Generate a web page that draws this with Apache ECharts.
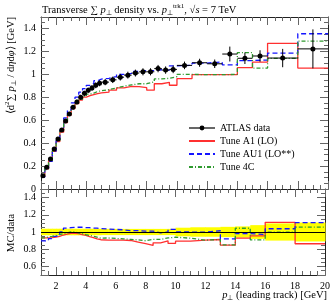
<!DOCTYPE html>
<html><head><meta charset="utf-8">
<script src="https://cdn.jsdelivr.net/npm/echarts@6/dist/echarts.min.js"></script>
<style>html,body{margin:0;padding:0;background:#fff}#c{width:333px;height:302px}</style>
</head><body><div id="c"></div>
<script>
// bin edges (leading track pT, GeV)
const binEdges = [1,1.25,1.5,1.75,2,2.25,2.5,2.75,3,3.25,3.5,3.75,4,4.25,4.5,4.75,5,5.5,6,6.5,7,7.5,8,8.5,9,9.5,10,11,12,13,14,15,16,18,20];
// ATLAS data
const dataVals = [0.116,0.189,0.262,0.349,0.436,0.514,0.593,0.654,0.712,0.759,0.800,0.834,0.861,0.881,0.904,0.922,
  0.932,0.952,0.975,0.993,1.011,1.022,1.022,1.050,1.037,1.043,
  1.078,1.101,1.092,1.177,1.140,1.160,1.142,1.222];
const dataErr = [0.008,0.010,0.012,0.014,0.015,0.016,0.017,0.018,0.019,0.020,0.021,0.022,0.023,0.024,0.025,0.026,
  0.027,0.028,0.029,0.030,0.030,0.031,0.031,0.032,0.032,0.033,
  0.033,0.035,0.037,0.065,0.050,0.050,0.080,0.170];
const bandRel = [0.038,0.038,0.038,0.038,0.038,0.038,0.038,0.038,0.038,0.038,0.038,0.038,0.038,0.038,0.038,0.038,
  0.036,0.036,0.036,0.036,0.036,0.036,0.036,0.036,0.036,0.036,
  0.050,0.055,0.055,0.060,0.065,0.080,0.100,0.110];
// MC tunes
const tuneA1 = [0.108,0.176,0.245,0.328,0.414,0.496,0.578,0.644,0.701,0.744,0.776,0.801,0.814,0.824,0.832,0.839,
  0.844,0.862,0.882,0.895,0.893,0.884,0.862,0.918,0.930,0.905,
  0.963,0.997,0.997,0.997,1.058,1.107,1.270,1.055];
const tuneAU1 = [0.104,0.170,0.242,0.331,0.421,0.514,0.620,0.687,0.751,0.801,0.844,0.876,0.904,0.921,0.945,0.959,
  0.965,0.981,1.000,1.008,1.026,1.032,1.032,1.040,1.037,1.074,
  1.078,1.098,1.108,1.083,1.120,1.125,1.185,1.354];
const tune4C = [0.108,0.178,0.249,0.335,0.423,0.504,0.587,0.654,0.712,0.751,0.784,0.809,0.827,0.837,0.850,0.857,
  0.867,0.881,0.897,0.908,0.918,0.918,0.935,0.960,0.965,0.980,
  1.000,0.997,0.997,1.000,1.190,1.055,1.140,1.290];

const FONT = 'Liberation Serif';
const nBins = dataVals.length;

function stepData(vals, ref) {
  const out = [];
  for (let i = 0; i < nBins; i++) out.push([binEdges[i], ref ? vals[i] / ref[i] : vals[i]]);
  out.push([binEdges[nBins], ref ? vals[nBins - 1] / ref[nBins - 1] : vals[nBins - 1]]);
  return out;
}
const errItems = dataVals.map((v, i) => [binEdges[i], binEdges[i + 1], (binEdges[i] + binEdges[i + 1]) / 2, v, dataErr[i]]);
const pointItems = dataVals.map((v, i) => [(binEdges[i] + binEdges[i + 1]) / 2, v]);
const bandItems = bandRel.map((r, i) => [binEdges[i], binEdges[i + 1], 1 - r, 1 + r]);

const axisLineS = {show: true, onZero: false, lineStyle: {color: '#222', width: 1}};
const tickS = (len) => ({show: true, inside: true, length: len, lineStyle: {color: '#666', width: 1}});
const minorS = (len) => ({show: true, splitNumber: 4, length: len, lineStyle: {color: '#666', width: 1}});
const lblS = {fontFamily: FONT, fontSize: 10, color: '#000'};

function xAx(grid, pos, showLbl) {
  return {type: 'value', gridIndex: grid, position: pos, min: 1, max: 20, splitNumber: 10,
    axisLine: axisLineS, axisTick: tickS(8), minorTick: minorS(4), splitLine: {show: false},
    axisLabel: showLbl ? Object.assign({show: true, margin: 6, showMinLabel: false, showMaxLabel: true}, lblS) : {show: false}};
}
function yAx(grid, pos, showLbl, mn, mx) {
  return {type: 'value', gridIndex: grid, position: pos, min: mn, max: mx, splitNumber: mn === 0 ? 7 : 5,
    axisLine: axisLineS, axisTick: tickS(8), minorTick: minorS(4), splitLine: {show: false},
    axisLabel: showLbl ? Object.assign({show: true, margin: 5, showMinLabel: mn !== 0.5 ? true : false, showMaxLabel: false}, lblS) : {show: false}};
}

const RED = '#ff3030', BLUE = '#1414ff', GREEN = '#2f9a2f';
function mcSeries(name, vals, color, type, xi, ref) {
  return {name: name, type: 'line', step: 'end', xAxisIndex: xi, yAxisIndex: xi, data: stepData(vals, ref),
    symbol: 'none', clip: true, z: 3, lineStyle: {color: color, width: 1.3, type: type}, itemStyle: {color: color}};
}

const option = {
  animation: false,
  grid: [
    {left: 41, right: 5, top: 17, height: 172},
    {left: 41, right: 5, top: 189, height: 86}
  ],
  xAxis: [xAx(0, 'bottom', false), xAx(0, 'top', false), xAx(1, 'bottom', true), xAx(1, 'top', false)],
  yAxis: [yAx(0, 'left', true, 0, 1.5), yAx(0, 'right', false, 0, 1.5), yAx(1, 'left', true, 0.5, 1.5), yAx(1, 'right', false, 0.5, 1.5)],
  legend: {
    orient: 'vertical', left: 183, top: 118, itemWidth: 26, itemHeight: 6, itemGap: 3,
    textStyle: {fontFamily: FONT, fontSize: 10, color: '#000'},
    data: [
      {name: 'ATLAS data', lineStyle: {opacity: 1, width: 1.2, color: '#000', type: 'solid'}},
      {name: 'Tune A1 (LO)', itemStyle: {opacity: 0}},
      {name: 'Tune AU1 (LO**)', itemStyle: {opacity: 0}},
      {name: 'Tune 4C', itemStyle: {opacity: 0}}
    ]
  },
  series: [
    mcSeries('Tune A1 (LO)', tuneA1, RED, 'solid', 0),
    mcSeries('Tune AU1 (LO**)', tuneAU1, BLUE, [5, 3], 0),
    mcSeries('Tune 4C', tune4C, GREEN, [4, 2, 1, 2], 0),
    {type: 'custom', xAxisIndex: 0, yAxisIndex: 0, z: 5, data: errItems, encode: {x: [0, 1, 2], y: [3]},
      renderItem: function (params, api) {
        const lo = api.value(0), hi = api.value(1), c = api.value(2), v = api.value(3), e = api.value(4);
        const a = api.coord([lo, v]), b = api.coord([hi, v]), t = api.coord([c, v + e]), d = api.coord([c, v - e]);
        return {type: 'group', children: [
          {type: 'line', shape: {x1: a[0], y1: a[1], x2: b[0], y2: b[1]}, style: {stroke: '#000', lineWidth: 1}},
          {type: 'line', shape: {x1: t[0], y1: t[1], x2: d[0], y2: d[1]}, style: {stroke: '#000', lineWidth: 1}}
        ]};
      }},
    {name: 'ATLAS data', type: 'line', xAxisIndex: 0, yAxisIndex: 0, z: 6, data: pointItems,
      symbol: 'circle', symbolSize: 5, itemStyle: {color: '#000'}, lineStyle: {opacity: 0, color: '#000'}},
    // ratio panel
    {type: 'custom', xAxisIndex: 2, yAxisIndex: 2, z: 1, data: bandItems, encode: {x: [0, 1], y: [2, 3]},
      renderItem: function (params, api) {
        const p1 = api.coord([api.value(0), api.value(3)]), p2 = api.coord([api.value(1), api.value(2)]);
        return {type: 'rect', shape: {x: p1[0], y: p1[1], width: p2[0] - p1[0] + 0.5, height: p2[1] - p1[1]},
          style: {fill: '#ffff00'}};
      },
      markLine: {silent: true, symbol: 'none', label: {show: false}, lineStyle: {color: '#000', width: 1, type: 'solid'},
        data: [{yAxis: 1}]}},
    mcSeries('Tune A1 (LO)', tuneA1, RED, 'solid', 2, dataVals),
    mcSeries('Tune AU1 (LO**)', tuneAU1, BLUE, [5, 3], 2, dataVals),
    mcSeries('Tune 4C', tune4C, GREEN, [4, 2, 1, 2], 2, dataVals)
  ],
  graphic: [
    {type: 'text', x: 42, y: 10, style: {
      text: '{n|Transverse ∑ }{i|p}{sub|⊥}{n| density vs. }{i|p}{sub|⊥}{sup|trk1}{n|, √}{i|s}{n| = 7 TeV}',
      align: 'left', verticalAlign: 'middle', textAlign: 'left', textVerticalAlign: 'middle',
      fill: '#000', font: '10.5px ' + FONT,
      rich: {
        n: {fontFamily: FONT, fontSize: 10.5, lineHeight: 14, color: '#000'},
        i: {fontFamily: FONT, fontSize: 10.5, fontStyle: 'italic', lineHeight: 14, color: '#000'},
        sub: {fontFamily: FONT, fontSize: 7, lineHeight: 8, verticalAlign: 'bottom', color: '#000'},
        sup: {fontFamily: FONT, fontSize: 7, lineHeight: 8, verticalAlign: 'top', color: '#000'}
      }}},
    {type: 'text', x: 11, y: 17, rotation: Math.PI / 2, style: {
      text: '{n|⟨d}{sup|2}{n|∑ }{i|p}{sub|⊥}{n| / d}{i|η}{n|d}{i|φ}{n|⟩ [GeV]}',
      align: 'right', verticalAlign: 'middle', textAlign: 'right', textVerticalAlign: 'middle',
      fill: '#000', font: '10.5px ' + FONT,
      rich: {
        n: {fontFamily: FONT, fontSize: 10.5, lineHeight: 14, color: '#000'},
        i: {fontFamily: FONT, fontSize: 10.5, fontStyle: 'italic', lineHeight: 14, color: '#000'},
        sub: {fontFamily: FONT, fontSize: 7, lineHeight: 8, verticalAlign: 'bottom', color: '#000'},
        sup: {fontFamily: FONT, fontSize: 7, lineHeight: 8, verticalAlign: 'top', color: '#000'}
      }}},
    {type: 'text', x: 11, y: 233, rotation: Math.PI / 2, style: {
      text: 'MC/data', align: 'center', verticalAlign: 'middle', textAlign: 'center', textVerticalAlign: 'middle',
      fill: '#000', font: '11px ' + FONT}},
    {type: 'text', x: 327, y: 295, style: {
      text: '{i|p}{sub|⊥}{n| (leading track) [GeV]}',
      align: 'right', verticalAlign: 'middle', textAlign: 'right', textVerticalAlign: 'middle',
      fill: '#000', font: '10.5px ' + FONT,
      rich: {
        n: {fontFamily: FONT, fontSize: 10.5, lineHeight: 14, color: '#000'},
        i: {fontFamily: FONT, fontSize: 10.5, fontStyle: 'italic', lineHeight: 14, color: '#000'},
        sub: {fontFamily: FONT, fontSize: 7, lineHeight: 8, verticalAlign: 'bottom', color: '#000'}
      }}}
  ]
};
const chart = echarts.init(document.getElementById('c'), null, {renderer: 'canvas'});
chart.setOption(option);
</script>
</body></html>
